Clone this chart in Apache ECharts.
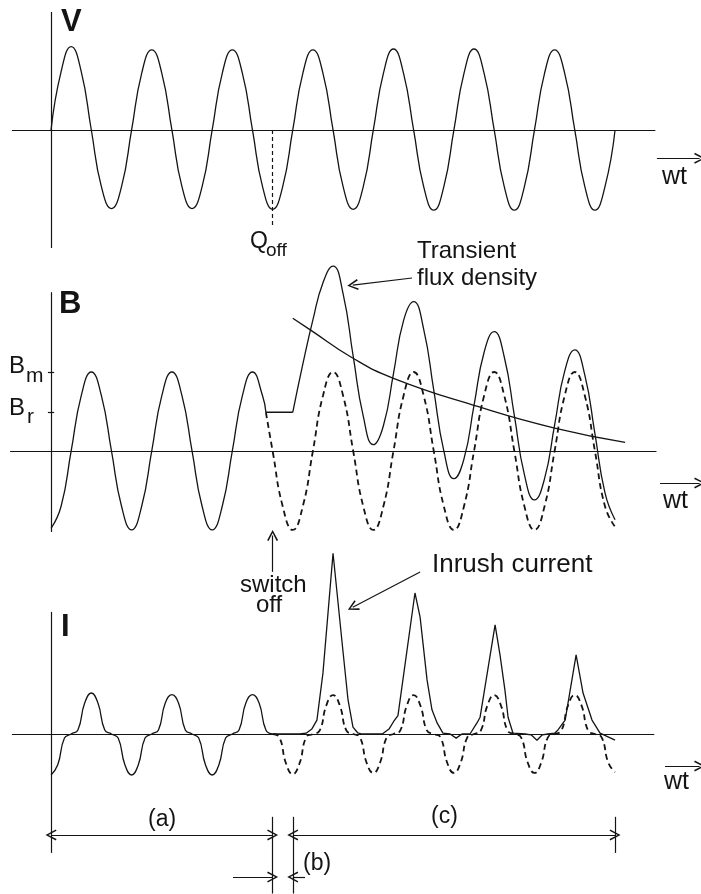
<!DOCTYPE html>
<html>
<head>
<meta charset="utf-8">
<title>Transformer inrush</title>
<script src="https://cdn.jsdelivr.net/npm/echarts@6/dist/echarts.min.js"></script>
<style>
  html, body { margin: 0; padding: 0; background: #fff; }
  #chart { width: 701px; height: 894px; }
</style>
</head>
<body>
<div id="chart"></div>
<script>
// x = wt in degrees, y = % of the steady-state peak of each quantity

// supply voltage, every 45 deg from 0
const vWave = [
  0, 72, 103, 72, 0, -70, -97, -70,
  0, 70, 99, 70, 0, -70, -97, -70,
  0, 70, 99, 70, 0, -70, -98, -70,
  0, 70, 99, 70, 0, -70, -98, -70,
  0, 70, 100, 70, 0, -70, -99, -70,
  0, 70, 100, 70, 0, -70, -99, -70,
  0, 70, 99, 70, 0, -70, -99, -70,
  0,
];

// flux density
const bSteady = [
  [0, -98], [45, -70], [90, 0], [135, 70], [180, 100], [225, 70], [270, 0], [315, -70],
  [360, -100], [405, -70], [450, 0], [495, 70], [540, 100], [585, 70], [630, 0], [675, -70],
  [720, -100], [765, -70], [810, 0], [855, 70], [900, 100], [945, 70], [960, 49],
];
const bRemanent = [[960, 49], [1080, 49]];
const bTransient = [
  [1080, 49], [1125, 110], [1170, 166], [1215, 213], [1260, 234], [1305, 199], [1350, 120],
  [1395, 44], [1440, 8], [1485, 32], [1530, 98], [1575, 165], [1620, 189], [1665, 154],
  [1710, 77], [1755, 0], [1800, -35], [1845, -10], [1890, 58], [1935, 125], [1980, 151],
  [2025, 119], [2070, 45], [2115, -30], [2160, -62], [2205, -35], [2250, 33], [2295, 101],
  [2340, 128], [2385, 96], [2430, 22], [2475, -53], [2520, -87],
];
const bNormal = [
  [960, 49], [990, 0], [1035, -70], [1080, -100], [1125, -70], [1170, 0], [1215, 70],
  [1260, 100], [1305, 70], [1350, 0], [1395, -70], [1440, -100], [1485, -70], [1530, 0],
  [1575, 70], [1620, 100], [1665, 70], [1710, 0], [1755, -70], [1800, -100], [1845, -70],
  [1890, 0], [1935, 70], [1980, 100], [2025, 70], [2070, 0], [2115, -70], [2160, -100],
  [2205, -70], [2250, 0], [2295, 70], [2340, 100], [2385, 70], [2430, 0], [2475, -70],
  [2520, -96],
];
const bDecay = [[1080, 168], [1160, 153], [1340, 119], [1530, 92], [1910, 56], [2250, 29], [2565, 11]];
const bTicks = [100, 49]; // Bm, Br

// magnetising current, every 30 deg
const iSteady = [
  -100, -75, -10, 0, 10, 75, 100, 75, 10, 0, -10, -75,
  -100, -75, -10, 0, 10, 75, 96, 75, 10, 0, -10, -75,
  -100, -75, -10, 0, 10, 75, 96, 75, 10, 0,
];
const iNormal = [ // from 990 deg
  0, -8, -72, -98, -72, -8, 0, 8, 70, 95, 70, 8,
  0, -8, -70, -95, -70, -8, 0, 8, 70, 95, 70, 8,
  0, -8, -70, -95, -70, -8, 0, 8, 70, 95, 70, 8,
  0, -8, -70, -95, -70, -8, 0, 8, 70, 95, 70, 8,
  0, -8, -70, -93,
];
const iInrush = [
  [990, 0], [1110, 0], [1140, 2], [1165, 12], [1188, 34], [1215, 149], [1260, 441],
  [1300, 225], [1327, 83], [1349, 17], [1370, 3], [1390, 0],
  [1480, 0], [1510, 12], [1530, 30], [1550, 45], [1626, 344], [1649, 285], [1680, 132],
  [1702, 59], [1725, 27], [1751, 2], [1783, 0], [1810, -10], [1836, 0],
  [1872, 0], [1903, 27], [1917, 41], [1984, 266], [2006, 193], [2028, 107], [2042, 41],
  [2064, 2], [2118, 0], [2145, -2], [2171, -15], [2195, -2], [2220, 0],
  [2250, 2], [2265, 10], [2297, 34], [2346, 193], [2377, 100], [2417, 34], [2453, 2],
  [2520, -15],
];

const ink = '#141414';
const fontFamily = '"Liberation Sans", Arial, Helvetica, sans-serif';
const head = 'path://M0,12 L6,0 L12,12 L10.4,12.8 L6,3.4 L1.6,12.8 Z';

function steps(values, start, step) {
  return values.map((v, i) => [start + i * step, v]);
}

// one markLine segment, optional arrow heads
function seg(from, to, opt = {}) {
  const s = opt.size || [11, 11];
  const item = [
    { coord: from, symbol: opt.both ? head : 'none', symbolSize: s },
    { coord: to, symbol: opt.both || opt.arrow ? head : 'none', symbolSize: s },
  ];
  if (opt.dashed) item[1].lineStyle = { type: [4, 3], width: 1.2 };
  return item;
}

function marks(data) {
  return {
    silent: true,
    symbol: 'none',
    label: { show: false },
    emphasis: { disabled: true },
    lineStyle: { color: ink, type: 'solid', width: 1.2 },
    data: data,
  };
}

function curve(grid, data, opt = {}) {
  return {
    type: 'line',
    xAxisIndex: grid,
    yAxisIndex: grid,
    data: data,
    smooth: opt.smooth === undefined ? true : opt.smooth,
    showSymbol: false,
    symbol: 'none',
    silent: true,
    lineStyle: {
      color: ink,
      width: opt.dashed ? 1.8 : 1.3,
      type: opt.dashed ? [6, 4] : 'solid',
    },
    markLine: opt.marks ? marks(opt.marks) : undefined,
    z: 3,
  };
}

function text(str, x, y, size, bold) {
  return {
    type: 'text',
    x: x,
    y: y,
    silent: true,
    style: {
      text: str,
      font: (bold ? 'bold ' : '') + size + 'px ' + fontFamily,
      fill: ink,
      align: 'left',
      verticalAlign: 'middle',
    },
  };
}

const chart = echarts.init(document.getElementById('chart'));

const xAxis = [0, 1, 2].map((i) => ({
  type: 'value', gridIndex: i, min: -228, max: 2904, show: false,
}));
const yAxis = [
  { type: 'value', gridIndex: 0, min: -163, max: 160.5, show: false },
  { type: 'value', gridIndex: 1, min: -176, max: 248.1, show: false },
  { type: 'value', gridIndex: 2, min: -390.2, max: 461, show: false },
];

const option = {
  animation: false,
  backgroundColor: '#fff',
  grid: [
    { left: 0, right: 0, top: 0, height: 262 },
    { left: 0, right: 0, top: 255, height: 335 },
    { left: 0, right: 0, top: 545, height: 349 },
  ],
  xAxis: xAxis,
  yAxis: yAxis,
  series: [
    curve(0, steps(vWave, 0, 45), {
      marks: [
        seg([-175, 0], [2700, 0]),
        seg([0, 145.7], [0, -145.7]),
        seg([990, 0], [990, -121], { dashed: true }),
        seg([2707, -35], [2898, -35], { arrow: true }),
      ],
    }),

    curve(1, bSteady, {
      marks: [
        seg([-183, 0], [2705, 0]),
        seg([0, 201], [0, -102.5]),
        ...bTicks.map((t) => seg([-14, t], [14, t])),
        seg([2721, -40.5], [2898, -40.5], { arrow: true }),
        seg([1613, 219], [1348, 210], { arrow: true }),
        seg([990, -153], [990, -107], { arrow: true }),
      ],
    }),
    curve(1, bRemanent, { smooth: false }),
    curve(1, bTransient),
    curve(1, bNormal, { dashed: true }),
    curve(1, bDecay),

    curve(2, steps(iSteady, 0, 30), {
      marks: [
        seg([-175, 0], [2695, 0]),
        seg([0, 298], [0, -290]),
        seg([2743, -78], [2898, -78], { arrow: true }),
        seg([1649, 395], [1348, 309], { arrow: true }),
        seg([0, -246], [990, -246], { both: true }),
        seg([1080, -246], [2520, -246], { both: true }),
        seg([990, -202], [990, -389]),
        seg([1080, -202], [1080, -389]),
        seg([2520, -202], [2520, -290]),
        seg([813, -349], [990, -349], { arrow: true }),
        seg([1135, -349], [1080, -349], { arrow: true }),
      ],
    }),
    curve(2, steps(iNormal, 990, 30), { dashed: true }),
    curve(2, iInrush, { smooth: false }),
  ],
  graphic: [
    text('V', 61, 22, 31, true),
    text('B', 59, 304, 31, true),
    text('I', 61, 627, 31, true),
    text('Q', 250, 242, 23),
    text('off', 266, 251, 19),
    text('B', 9, 366, 24),
    text('m', 26, 376, 21),
    text('B', 9, 408, 24),
    text('r', 27, 417, 21),
    text('wt', 662, 177, 25),
    text('wt', 663, 501, 25),
    text('wt', 664, 782, 25),
    text('Transient', 417, 251, 24),
    text('flux density', 417, 278, 24),
    text('Inrush current', 432, 565, 26),
    text('switch', 240, 585, 24),
    text('off', 256, 605, 24),
    text('(a)', 148, 820, 23),
    text('(b)', 303, 864, 23),
    text('(c)', 431, 817, 23),
  ],
};

chart.setOption(option);
</script>
</body>
</html>
